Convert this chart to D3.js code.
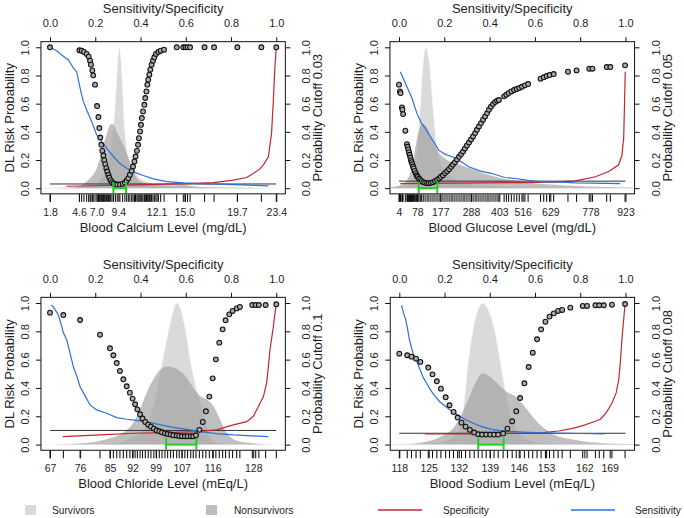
<!DOCTYPE html>
<html><head><meta charset="utf-8">
<script src="https://cdn.jsdelivr.net/npm/d3@7"></script>
<style>
body{margin:0;background:#fff;}
svg{display:block;font-family:"Liberation Sans",Arial,sans-serif;}
</style></head><body>
<svg id="chart" width="684" height="518"></svg>
<script>
// ---------- DATA (x on the Sensitivity/Specificity 0-1 scale, y = probability) ----------
const calciumPoints = [[0,1],[.130,.979],[.140,.976],[.150,.967],[.162,.953],[.171,.934],[.177,.905],[.181,.877],[.187,.836],[.191,.801],[.199,.735],[.208,.583],[.214,.505],[.218,.427],[.222,.360],[.227,.308],[.231,.265],[.236,.232],[.240,.199],[.244,.171],[.249,.142],[.253,.118],[.258,.095],[.262,.076],[.268,.057],[.274,.043],[.281,.033],[.289,.028],[.297,.026],[.309,.026],[.321,.031],[.331,.040],[.339,.055],[.346,.071],[.353,.095],[.361,.123],[.367,.154],[.373,.190],[.378,.225],[.384,.265],[.389,.308],[.393,.355],[.398,.403],[.402,.450],[.406,.498],[.411,.545],[.417,.592],[.421,.640],[.426,.687],[.430,.735],[.434,.770],[.439,.806],[.443,.841],[.449,.877],[.455,.905],[.461,.929],[.468,.953],[.479,.967],[.489,.976],[.504,.983],[.560,1],[.589,1],[.599,1],[.608,1],[.619,1],[.683,1],[.725,1],[.828,1],[.934,1],[1,1]];
const calciumSens = [[0,1],[.029,.976],[.059,.936],[.081,.912],[.103,.853],[.118,.825],[.133,.711],[.147,.616],[.162,.555],[.184,.474],[.206,.379],[.228,.332],[.250,.284],[.280,.225],[.309,.175],[.339,.142],[.368,.116],[.412,.090],[.457,.066],[.515,.047],[.589,.038],[.663,.033],[.810,.026],[.965,.017]];
const calciumSpec = [[.074,.014],[.250,.019],[.398,.024],[.604,.033],[.722,.040],[.810,.057],[.869,.076],[.898,.104],[.928,.137],[.943,.166],[.965,.223],[.979,.389],[.987,.626],[.994,.863],[1,1]];
const calciumSurv = [[-.04,0],[.10,.003],[.15,.01],[.20,.03],[.23,.08],[.25,.15],[.265,.25],[.275,.38],[.283,.5],[.29,.65],[.295,.8],[.300,.93],[.306,1],[.312,.95],[.318,.8],[.323,.65],[.327,.5],[.333,.38],[.342,.25],[.355,.17],[.37,.12],[.385,.09],[.41,.06],[.43,.045],[.47,.025],[.55,.012],[.60,.015],[.65,.005],[.80,.002],[1.04,0]];
const calciumNonsurv = [[-.04,0],[.10,.005],[.147,.03],[.177,.07],[.206,.14],[.221,.21],[.236,.31],[.250,.38],[.262,.44],[.272,.455],[.283,.445],[.295,.40],[.309,.355],[.324,.31],[.339,.25],[.353,.19],[.368,.12],[.383,.07],[.398,.05],[.427,.035],[.486,.024],[.545,.02],[.59,.025],[.62,.015],[.70,.006],[.85,.003],[1.04,0]];
const calciumTickPos = [0,.128,.206,.302,.471,.594,.826,1];
const calciumTickLabels = ["1.8","4.6","7.0","9.4","12.1","15.0","19.7","23.4"];
const calciumCutoff = 0.03;
const calciumRange = [.280,.336];

const glucosePoints = [[0,.735],[.004,.687],[.007,.675],[.013,.573],[.015,.557],[.018,.526],[.028,.408],[.035,.313],[.038,.294],[.041,.275],[.044,.256],[.047,.237],[.050,.218],[.053,.199],[.056,.185],[.059,.171],[.062,.154],[.065,.140],[.069,.123],[.074,.107],[.078,.092],[.082,.081],[.088,.069],[.094,.059],[.100,.050],[.107,.043],[.115,.038],[.124,.036],[.132,.036],[.141,.038],[.150,.043],[.159,.050],[.168,.059],[.177,.069],[.185,.081],[.194,.092],[.203,.107],[.212,.121],[.221,.135],[.230,.152],[.238,.168],[.247,.185],[.256,.204],[.265,.223],[.274,.242],[.283,.261],[.291,.282],[.300,.303],[.309,.325],[.318,.346],[.327,.367],[.336,.391],[.344,.415],[.353,.438],[.362,.462],[.371,.486],[.380,.509],[.389,.533],[.397,.557],[.406,.578],[.415,.597],[.424,.611],[.433,.621],[.441,.626],[.464,.652],[.474,.664],[.484,.675],[.496,.687],[.508,.697],[.520,.704],[.531,.711],[.543,.720],[.556,.730],[.570,.739],[.625,.777],[.639,.787],[.652,.796],[.665,.803],[.683,.810],[.746,.827],[.784,.836],[.840,.848],[.854,.848],[.917,.860],[.933,.860],[.998,.872]];
const glucoseSens = [[.006,.827],[.035,.720],[.057,.640],[.079,.531],[.099,.462],[.116,.424],[.143,.355],[.175,.270],[.202,.242],[.234,.223],[.268,.194],[.308,.152],[.356,.123],[.411,.104],[.467,.076],[.514,.069],[.570,.055],[.631,.045],[.717,.043],[.778,.038],[.864,.036],[.977,.033]];
const glucoseSpec = [[.006,.033],[.246,.036],[.540,.040],[.687,.043],[.778,.052],[.867,.081],[.926,.118],[.970,.166],[.984,.232],[.992,.355],[.996,.626],[.999,.827]];
const glucoseSurv = [[-.04,0],[0,.01],[.04,.03],[.06,.08],[.075,.2],[.09,.5],[.10,.75],[.11,.95],[.118,1],[.127,.96],[.137,.85],[.147,.65],[.157,.45],[.167,.3],[.18,.2],[.20,.13],[.23,.08],[.27,.05],[.32,.03],[.40,.02],[.50,.01],[.60,.005],[1.04,0]];
const glucoseNonsurv = [[-.04,.005],[.01,.024],[.04,.071],[.062,.19],[.077,.332],[.092,.427],[.107,.455],[.121,.438],[.143,.355],[.172,.261],[.202,.213],[.246,.178],[.29,.154],[.334,.130],[.393,.095],[.452,.071],[.54,.047],[.614,.031],[.687,.024],[.834,.012],[1,.005],[1.04,.004]];
const glucoseTickPos = [0,.081,.182,.318,.443,.546,.668,.845,1];
const glucoseTickLabels = ["4","78","177","288","403","516","629","778","923"];
const glucoseCutoff = 0.05;
const glucoseRange = [.087,.169];

const chloridePoints = [[0,.932],[.059,.915],[.133,.880],[.221,.776],[.265,.680],[.280,.631],[.295,.576],[.309,.520],[.324,.461],[.339,.412],[.353,.367],[.365,.325],[.376,.285],[.386,.249],[.398,.214],[.409,.184],[.421,.160],[.434,.141],[.446,.127],[.459,.113],[.471,.101],[.483,.094],[.495,.087],[.508,.080],[.520,.075],[.533,.071],[.545,.066],[.560,.064],[.571,.061],[.583,.059],[.596,.059],[.608,.059],[.622,.059],[.633,.059],[.645,.066],[.660,.104],[.675,.160],[.689,.235],[.704,.339],[.719,.468],[.733,.602],[.748,.720],[.763,.814],[.776,.878],[.792,.920],[.807,.944],[.825,.962],[.839,.972],[.894,.986],[.909,.986],[.923,.986],[.953,.986],[1,.991]];
const chlorideSens = [[.007,.986],[.022,.955],[.037,.915],[.047,.861],[.059,.791],[.074,.739],[.088,.649],[.103,.551],[.118,.485],[.133,.409],[.155,.344],[.177,.280],[.206,.245],[.250,.221],[.295,.191],[.339,.179],[.398,.167],[.442,.155],[.501,.136],[.545,.122],[.604,.108],[.663,.092],[.736,.078],[.810,.068],[.965,.056]];
const chlorideSpec = [[.056,.056],[.221,.068],[.368,.080],[.515,.085],[.648,.092],[.736,.104],[.810,.139],[.869,.162],[.898,.198],[.913,.245],[.928,.292],[.943,.339],[.957,.433],[.965,.551],[.972,.668],[.987,.833],[.994,.927],[1,.986]];
const chlorideSurv = [[-.04,0],[.2,.003],[.3,.01],[.33,.03],[.36,.05],[.40,.08],[.43,.15],[.46,.3],[.48,.45],[.50,.62],[.52,.78],[.54,.92],[.56,1],[.575,.97],[.59,.88],[.605,.76],[.62,.6],[.635,.48],[.65,.38],[.665,.3],[.68,.22],[.69,.15],[.70,.08],[.72,.03],[.75,.01],[.80,.003],[1.04,0]];
const chlorideNonsurv = [[-.04,0],[.1,.005],[.177,.014],[.25,.038],[.324,.085],[.368,.155],[.398,.249],[.427,.367],[.457,.461],[.486,.527],[.515,.551],[.545,.544],[.574,.520],[.604,.473],[.633,.402],[.663,.344],[.692,.320],[.722,.273],[.751,.179],[.78,.085],[.81,.038],[.869,.014],[1,0],[1.04,0]];
const chlorideTickPos = [0,.133,.265,.365,.467,.582,.719,.898];
const chlorideTickLabels = ["67","76","85","92","99","107","116","128"];
const chlorideCutoff = 0.1;
const chlorideRange = [.513,.647];

const sodiumPoints = [[0,.642],[.035,.631],[.054,.621],[.074,.607],[.093,.584],[.128,.544],[.147,.496],[.166,.447],[.184,.395],[.205,.334],[.222,.278],[.240,.231],[.258,.191],[.275,.155],[.293,.127],[.312,.104],[.331,.085],[.349,.073],[.366,.071],[.384,.071],[.402,.071],[.419,.071],[.437,.071],[.459,.078],[.478,.113],[.499,.165],[.517,.235],[.534,.329],[.553,.433],[.572,.548],[.590,.649],[.609,.744],[.627,.814],[.646,.868],[.664,.904],[.683,.927],[.702,.944],[.720,.951],[.756,.967],[.811,.979],[.830,.979],[.867,.984],[.884,.984],[.904,.984],[.940,.988],[.998,.993]];
const sodiumSens = [[.010,.984],[.018,.932],[.028,.885],[.037,.814],[.043,.755],[.052,.696],[.062,.638],[.077,.591],[.091,.532],[.106,.473],[.121,.433],[.135,.391],[.157,.344],[.180,.301],[.202,.273],[.231,.238],[.260,.207],[.290,.179],[.327,.151],[.364,.127],[.408,.108],[.467,.094],[.570,.087],[.687,.082],[.908,.075]];
const sodiumSpec = [[.113,.075],[.319,.075],[.540,.080],[.643,.087],[.705,.096],[.761,.113],[.808,.132],[.857,.160],[.889,.179],[.915,.226],[.940,.292],[.959,.367],[.970,.456],[.977,.579],[.984,.739],[.992,.885],[.998,.991]];
const sodiumSurv = [[-.04,0],[.1,.005],[.172,.014],[.245,.061],[.274,.155],[.289,.344],[.304,.579],[.326,.814],[.348,.955],[.368,1],[.386,.976],[.408,.894],[.423,.80],[.437,.682],[.452,.541],[.467,.400],[.481,.282],[.496,.188],[.518,.108],[.54,.061],[.570,.038],[.614,.014],[.687,.005],[1.04,0]];
const sodiumNonsurv = [[-.04,.002],[.025,.002],[.099,.014],[.173,.049],[.217,.085],[.246,.132],[.275,.214],[.305,.320],[.334,.426],[.368,.504],[.393,.489],[.422,.449],[.452,.402],[.481,.367],[.511,.344],[.540,.296],[.570,.238],[.599,.179],[.628,.132],[.658,.096],[.687,.066],[.761,.038],[.835,.019],[1,.005],[1.04,.004]];
const sodiumTickPos = [0,.130,.263,.400,.528,.649,.818,.930];
const sodiumTickLabels = ["118","125","132","139","146","153","162","169"];
const sodiumCutoff = 0.08;
const sodiumRange = [.349,.461];

const axisTicks = [0,0.2,0.4,0.6,0.8,1.0];
const legendLabels = ["Survivors","Nonsurvivors","Specificity","Sensitivity"];

// ---------- LAYOUT ----------
const svg = d3.select("#chart");
const defs = svg.append("defs");
const panels = [
  {key:"calcium", x0:50, x1:276.3, y0:188.2, y1:47.3, points:calciumPoints, sens:calciumSens, spec:calciumSpec, surv:calciumSurv, nonsurv:calciumNonsurv, tickPos:calciumTickPos, tickLab:calciumTickLabels, cutoff:calciumCutoff, range:calciumRange, title:"Blood Calcium Level (mg/dL)"},
  {key:"glucose", x0:399, x1:625.5, y0:188.2, y1:47.3, points:glucosePoints, sens:glucoseSens, spec:glucoseSpec, surv:glucoseSurv, nonsurv:glucoseNonsurv, tickPos:glucoseTickPos, tickLab:glucoseTickLabels, cutoff:glucoseCutoff, range:glucoseRange, title:"Blood Glucose Level (mg/dL)"},
  {key:"chloride", x0:50, x1:276.3, y0:444.6, y1:303, points:chloridePoints, sens:chlorideSens, spec:chlorideSpec, surv:chlorideSurv, nonsurv:chlorideNonsurv, tickPos:chlorideTickPos, tickLab:chlorideTickLabels, cutoff:chlorideCutoff, range:chlorideRange, title:"Blood Chloride Level (mEq/L)"},
  {key:"sodium", x0:399.3, x1:625.5, y0:444.6, y1:303, points:sodiumPoints, sens:sodiumSens, spec:sodiumSpec, surv:sodiumSurv, nonsurv:sodiumNonsurv, tickPos:sodiumTickPos, tickLab:sodiumTickLabels, cutoff:sodiumCutoff, range:sodiumRange, title:"Blood Sodium Level (mEq/L)"}
];
const TXT = "#1e1e1e";

panels.forEach(drawPanel);

function drawPanel(p){
  const x = d3.scaleLinear().domain([0,1]).range([p.x0,p.x1]);
  const y = d3.scaleLinear().domain([0,1]).range([p.y0,p.y1]);
  const bx0=x(-0.04), bx1=x(1.04), by0=y(-0.04), by1=y(1.04);
  const g = svg.append("g");
  const cid = "clip-"+p.key;
  defs.append("clipPath").attr("id",cid).append("rect")
    .attr("x",bx0).attr("y",by1).attr("width",bx1-bx0).attr("height",by0-by1);
  const plot = g.append("g").attr("clip-path",`url(#${cid})`);
  const area = d3.area().x(d=>x(d[0])).y0(y(0)).y1(d=>y(d[1])).curve(d3.curveMonotoneX);
  const smooth = d3.line().x(d=>x(d[0])).y(d=>y(d[1])).curve(d3.curveMonotoneX);
  const line = d3.line().x(d=>x(d[0])).y(d=>y(d[1]));

  plot.append("path").attr("d",area(p.surv)).attr("fill","#dadada");
  plot.append("path").attr("d",smooth(p.surv)).attr("fill","none").attr("stroke","#f6f6f6").attr("stroke-width",1);
  plot.append("path").attr("d",area(p.nonsurv)).attr("fill","#a0a0a0").attr("fill-opacity",0.68);

  plot.append("line").attr("x1",x(0)).attr("x2",x(1)).attr("y1",y(p.cutoff)).attr("y2",y(p.cutoff))
    .attr("stroke","#333").attr("stroke-width",1);
  plot.append("path").attr("d",line(p.spec)).attr("fill","none").attr("stroke","#c0282e").attr("stroke-width",1.2);
  plot.append("path").attr("d",line(p.sens)).attr("fill","none").attr("stroke","#2f6fd8").attr("stroke-width",1.2);

  plot.selectAll("circle").data(p.points).join("circle")
    .attr("cx",d=>x(d[0])).attr("cy",d=>y(d[1])).attr("r",2.4)
    .attr("fill","#ababab").attr("stroke","#111").attr("stroke-width",1.1);

  // optimal range bracket
  const gb = g.append("g").attr("stroke","#1fd11f").attr("stroke-width",2).attr("fill","none");
  gb.append("line").attr("x1",x(p.range[0])).attr("x2",x(p.range[1])).attr("y1",y(0)).attr("y2",y(0));
  p.range.forEach(r=>{
    gb.append("line").attr("x1",x(r)).attr("x2",x(r)).attr("y1",y(0.045)).attr("y2",y(-0.035));
  });

  // rug
  g.append("g").selectAll("line").data(p.points).join("line")
    .attr("x1",d=>x(d[0])).attr("x2",d=>x(d[0])).attr("y1",by0+0.5).attr("y2",by0+8)
    .attr("stroke","#000").attr("stroke-width",1);

  // box
  g.append("rect").attr("x",bx0).attr("y",by1).attr("width",bx1-bx0).attr("height",by0-by1)
    .attr("fill","none").attr("stroke","#111").attr("stroke-width",1);

  const styleAxis = (a,fs) => {
    a.select(".domain").remove();
    a.selectAll("line").attr("stroke","#111");
    a.selectAll("text").attr("fill",TXT).style("font-size",fs).style("font-family",'"Liberation Sans",Arial,sans-serif');
  };
  // top axis
  const top = g.append("g").attr("transform",`translate(0,${by1})`)
    .call(d3.axisTop(x).tickValues(axisTicks).tickFormat(d3.format(".1f")).tickSize(4.5).tickPadding(10));
  styleAxis(top,"11px");
  // bottom axis
  const bot = g.append("g").attr("transform",`translate(0,${by0})`)
    .call(d3.axisBottom(x).tickValues(p.tickPos).tickFormat((d,i)=>p.tickLab[i]).tickSize(8).tickPadding(6.5));
  styleAxis(bot,"10.5px");
  // left axis
  const left = g.append("g").attr("transform",`translate(${bx0},0)`)
    .call(d3.axisLeft(y).tickValues(axisTicks).tickFormat(d3.format(".1f")).tickSize(5));
  styleAxis(left,"11px");
  left.selectAll("text").attr("x",0).attr("dy",null).attr("text-anchor","middle")
    .attr("dominant-baseline","central").attr("transform","translate(-16,0) rotate(-90)");
  // right axis
  const right = g.append("g").attr("transform",`translate(${bx1},0)`)
    .call(d3.axisRight(y).tickValues(axisTicks).tickFormat(d3.format(".1f")).tickSize(5));
  styleAxis(right,"11px");
  right.selectAll("text").attr("x",0).attr("dy",null).attr("text-anchor","middle")
    .attr("dominant-baseline","central").attr("transform","translate(21,0) rotate(-90)");

  // titles
  const cx = (bx0+bx1)/2, cy = (by0+by1)/2;
  const t = g.append("g").attr("fill",TXT).style("font-size","13px");
  t.append("text").attr("x",cx).attr("y",by1-33).attr("text-anchor","middle").attr("dominant-baseline","central").text("Sensitivity/Specificity");
  t.append("text").attr("x",cx).attr("y",by0+33.5).attr("text-anchor","middle").attr("dominant-baseline","central").text(p.title);
  t.append("text").attr("transform",`translate(${bx0-31.5},${cy}) rotate(-90)`).attr("text-anchor","middle").attr("dominant-baseline","central").text("DL Risk Probability");
  t.append("text").attr("transform",`translate(${bx1+32.5},${cy}) rotate(-90)`).attr("text-anchor","middle").attr("dominant-baseline","central").text("Probability Cutoff " + p.cutoff);
}

// ---------- LEGEND ----------
const lg = svg.append("g").style("font-size","10.2px").attr("fill",TXT);
const legendSpec = [
  {type:"rect", color:"#dadada", sx:25, tx:52},
  {type:"rect", color:"#bdbdbd", sx:206, tx:234},
  {type:"line", color:"#c0282e", sx:378, tx:443},
  {type:"line", color:"#2f6fd8", sx:571, tx:635}
];
legendSpec.forEach((s,i)=>{
  if(s.type==="rect") lg.append("rect").attr("x",s.sx).attr("y",505).attr("width",11).attr("height",10).attr("fill",s.color);
  else lg.append("line").attr("x1",s.sx).attr("x2",s.sx+44).attr("y1",510).attr("y2",510).attr("stroke",s.color).attr("stroke-width",1.3);
  lg.append("text").attr("x",s.tx).attr("y",510).attr("dominant-baseline","central").text(legendLabels[i]);
});
</script>
</body></html>
